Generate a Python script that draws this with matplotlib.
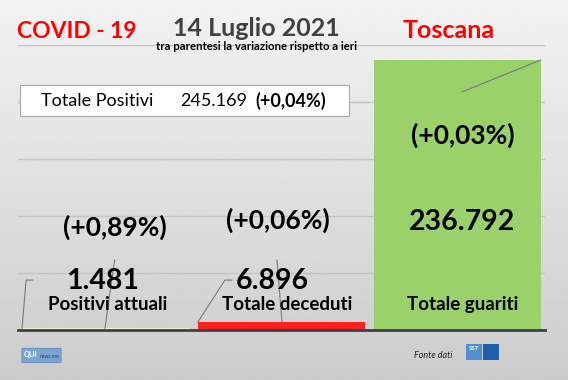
import numpy as np
import matplotlib.pyplot as plt
from matplotlib.patches import Rectangle, FancyBboxPatch

plt.rcParams['font.family'] = ['Lato', 'DejaVu Sans']

# data
categorie = ['Positivi attuali', 'Totale deceduti', 'Totale guariti']
valori = [1481, 6896, 236792]
valori_txt = ['1.481', '6.896', '236.792']
variazioni = ['(+0,89%)', '(+0,06%)', '(+0,03%)']
colori = ['#f3eed6', '#ff2121', '#9bd16b']
totale_positivi = '245.169'
var_totale = '(+0,04%)'

fig = plt.figure(figsize=(5.68, 3.8), dpi=100)

# background gradient
bg = fig.add_axes([0, 0, 1, 1], zorder=-10)
grad = np.linspace(0.95, 0.80, 256).reshape(-1, 1)
bg.imshow(grad, aspect='auto', cmap='gray', vmin=0, vmax=1, extent=[0, 1, 0, 1])
bg.axis('off')

ax = fig.add_axes([18/568, 50/380, 527/568, 285/380])
ax.patch.set_alpha(0)
x = np.arange(len(valori))
ax.bar(x, valori, width=0.95, color=colori, zorder=2)
ax.set_xlim(-0.5, 2.5)
ax.set_ylim(0, 250000)
ax.set_yticks(np.arange(50000, 250001, 50000))
ax.yaxis.grid(True, color='#c4c4c4', lw=1, zorder=0)
ax.tick_params(left=False, bottom=False, labelleft=False, labelbottom=False)
for s in ['top', 'left', 'right']:
    ax.spines[s].set_visible(False)
ax.spines['bottom'].set_color('#404040')
ax.spines['bottom'].set_linewidth(2)
ax.spines['bottom'].set_zorder(3)

# labels
pos_var = [(0.05, 90000), (0.98, 96500), (2.03, 171000)]
pos_val = [(-0.02, 43000), (0.95, 43000), (2.03, 94500)]
pos_cat = [(0.01, 22000), (1.03, 22000), (2.03, 22000)]
for i in range(3):
    ax.text(*pos_var[i], variazioni[i], ha='center', va='center', fontsize=19,
            fontweight='bold', zorder=4)
    ax.text(*pos_val[i], valori_txt[i], ha='center', va='center', fontsize=20.5,
            fontweight='bold', zorder=4)
    ax.text(*pos_cat[i], categorie[i], ha='center', va='center', fontsize=13.5,
            fontweight='bold', zorder=4)

# leader lines
lc = dict(color='#7a7a7a', lw=0.8, zorder=3)
ax.plot([x[0] - 0.477, x[0] - 0.454, x[0] - 0.415], [valori[0], 43800, 43800], **lc)
ax.plot([x[0] + 0.05, x[0] - 0.005], [61400, valori[0]], **lc)
ax.plot([x[1] - 0.476, x[1] - 0.322, x[1] - 0.282], [valori[1], 43800, 43800], **lc)
ax.plot([x[1] - 0.026, x[1] + 0.003], [61400, valori[1]], **lc)
ax.plot([x[2] + 0.027, x[2] + 0.475], [208800, valori[2]], **lc)

# titles
fig.text(17/568, 1 - 31/380, 'COVID - 19', color='#ff0000', fontsize=16.5,
         fontweight='bold', va='center', ha='left')
fig.text(256/568, 1 - 28/380, '14 Luglio 2021', color='#404040', fontsize=18,
         fontweight='bold', va='center', ha='center')
fig.text(256/568, 1 - 47/380, 'tra parentesi la variazione rispetto a ieri',
         color='black', fontsize=8.2, fontweight='bold', va='center', ha='center')
fig.text(495/568, 1 - 31/380, 'Toscana', color='#ff0000', fontsize=18,
         fontweight='bold', va='center', ha='right')

# total positive box
fig.patches.append(Rectangle((20/568, 1 - 116/380), 329/568, 31/380,
                             transform=fig.transFigure, facecolor='white',
                             edgecolor='#a8a8a8', lw=0.8, zorder=5))
fig.text(41/568, 1 - 101/380, 'Totale Positivi', fontsize=13, va='center',
         ha='left', zorder=6)
fig.text(180/568, 1 - 101/380, totale_positivi, fontsize=13,
         va='center', ha='left', zorder=6)
fig.text(326/568, 1 - 101/380, var_totale, fontsize=13, fontweight='bold',
         va='center', ha='right', zorder=6)

# footer
fig.patches.append(FancyBboxPatch((23/568, 1 - 362/380), 37/568, 13/380,
                                  boxstyle='round,pad=0.002',
                                  transform=fig.transFigure, facecolor='#7ea3cf',
                                  edgecolor='#5f86b8', lw=0.5))
fig.text(23.5/568, 1 - 355/380, 'QUI', color='white', fontsize=5.5,
         fontweight='bold', va='center', ha='left')
fig.text(59.5/568, 1 - 356/380, 'news.net', color='#1f3f6a', fontsize=3.6,
         va='center', ha='right')
fig.text(452/568, 1 - 356/380, 'Fonte dati', fontsize=6.5, style='italic',
         va='center', ha='right', color='#222222')
fig.patches.append(Rectangle((466/568, 1 - 360/380), 16/568, 16/380,
                             transform=fig.transFigure, facecolor='#4f8fd6'))
fig.patches.append(Rectangle((483/568, 1 - 360/380), 16/568, 16/380,
                             transform=fig.transFigure, facecolor='#1f5fae'))
fig.text(474/568, 1 - 348/380, 'SST', color='white', fontsize=4.5,
         fontweight='bold', va='center', ha='center')

fig.savefig('out.png', dpi=100)
